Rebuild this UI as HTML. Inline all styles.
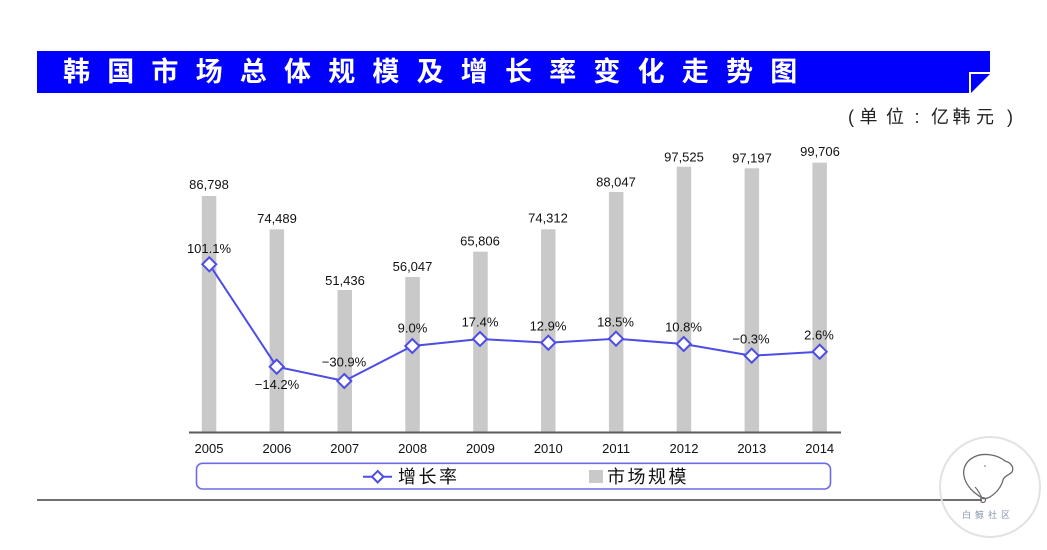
<!DOCTYPE html>
<html><head><meta charset="utf-8"><style>
html,body{margin:0;padding:0;background:#fff;}
svg{display:block;}
</style></head><body>
<svg width="1047" height="550" viewBox="0 0 1047 550" xmlns="http://www.w3.org/2000/svg">
<rect width="1047" height="550" fill="#fff"/>
<!-- title bar -->
<path d="M37 51 H990 V72 H969 V93 H37 Z" fill="#0000fc"/>
<path d="M971 74 H990 L971 93 Z" fill="#0000fc"/>
<g font-family="'Noto Sans CJK SC','WenQuanYi Zen Hei',sans-serif" font-weight="bold" font-size="27" fill="#fff" text-anchor="middle">
<text x="76.5" y="81">韩</text><text x="120.7" y="81">国</text><text x="164.9" y="81">市</text><text x="209.1" y="81">场</text><text x="253.3" y="81">总</text><text x="297.5" y="81">体</text><text x="341.7" y="81">规</text><text x="385.9" y="81">模</text><text x="430.1" y="81">及</text><text x="474.3" y="81">增</text><text x="518.5" y="81">长</text><text x="562.7" y="81">率</text><text x="606.9" y="81">变</text><text x="651.1" y="81">化</text><text x="695.3" y="81">走</text><text x="739.5" y="81">势</text><text x="783.7" y="81">图</text>
</g>
<!-- unit -->
<g font-family="'Liberation Sans','Noto Sans CJK SC',sans-serif" font-size="18" fill="#222" text-anchor="middle">
<text x="851" y="123">(</text><text x="868.5" y="123">单</text><text x="895" y="123">位</text><text x="917" y="123">:</text><text x="940" y="123">亿</text><text x="961.5" y="123">韩</text><text x="985" y="123">元</text><text x="1010" y="123">)</text>
</g>
<!-- bars -->
<g fill="#c9c9c9">
<rect x="201.8" y="196" width="14.5" height="236.5"/>
<rect x="269.6" y="229.3" width="14.5" height="203.2"/>
<rect x="337.5" y="290" width="14.5" height="142.5"/>
<rect x="405.3" y="277" width="14.5" height="155.5"/>
<rect x="473.2" y="251.7" width="14.5" height="180.8"/>
<rect x="541" y="229.3" width="14.5" height="203.2"/>
<rect x="608.9" y="192" width="14.5" height="240.5"/>
<rect x="676.7" y="166.7" width="14.5" height="265.8"/>
<rect x="744.6" y="168.3" width="14.5" height="264.2"/>
<rect x="812.4" y="162.7" width="14.5" height="269.8"/>
</g>
<!-- axis -->
<line x1="189" y1="432.5" x2="841" y2="432.5" stroke="#5a5a5a" stroke-width="2"/>
<!-- line -->
<polyline points="209.3,264.3 276.7,366.7 344.3,381 412.3,346 480,339 548.3,342.7 616,338.7 683.7,344 751.7,355.7 819.7,351.7" fill="none" stroke="#4d4de6" stroke-width="2"/>
<g fill="#fff" stroke="#4d4de6" stroke-width="2">
<path d="M209.3 257.3 L216.3 264.3 L209.3 271.3 L202.3 264.3 Z"/>
<path d="M276.7 359.7 L283.7 366.7 L276.7 373.7 L269.7 366.7 Z"/>
<path d="M344.3 374 L351.3 381 L344.3 388 L337.3 381 Z"/>
<path d="M412.3 339 L419.3 346 L412.3 353 L405.3 346 Z"/>
<path d="M480 332 L487 339 L480 346 L473 339 Z"/>
<path d="M548.3 335.7 L555.3 342.7 L548.3 349.7 L541.3 342.7 Z"/>
<path d="M616 331.7 L623 338.7 L616 345.7 L609 338.7 Z"/>
<path d="M683.7 337 L690.7 344 L683.7 351 L676.7 344 Z"/>
<path d="M751.7 348.7 L758.7 355.7 L751.7 362.7 L744.7 355.7 Z"/>
<path d="M819.7 344.7 L826.7 351.7 L819.7 358.7 L812.7 351.7 Z"/>
</g>
<!-- data labels -->
<g font-family="'Liberation Sans',sans-serif" font-size="13" fill="#111" text-anchor="middle">
<text x="209" y="189">86,798</text>
<text x="277" y="223">74,489</text>
<text x="345" y="285">51,436</text>
<text x="412.5" y="271">56,047</text>
<text x="480" y="245.7">65,806</text>
<text x="548" y="222.7">74,312</text>
<text x="616" y="186.7">88,047</text>
<text x="684" y="161.7">97,525</text>
<text x="752" y="162.7">97,197</text>
<text x="820" y="156.2">99,706</text>
<text x="209" y="253">101.1%</text>
<text x="277" y="389">−14.2%</text>
<text x="344" y="366.7">−30.9%</text>
<text x="412.5" y="332.7">9.0%</text>
<text x="480" y="326.7">17.4%</text>
<text x="548" y="330.7">12.9%</text>
<text x="615.5" y="326.7">18.5%</text>
<text x="683.5" y="331.7">10.8%</text>
<text x="751" y="343.7">−0.3%</text>
<text x="819" y="339.7">2.6%</text>
</g>
<!-- years -->
<g font-family="'Liberation Sans',sans-serif" font-size="13" fill="#111" text-anchor="middle">
<text x="209" y="453">2005</text><text x="276.9" y="453">2006</text><text x="344.7" y="453">2007</text><text x="412.6" y="453">2008</text><text x="480.4" y="453">2009</text><text x="548.3" y="453">2010</text><text x="616.1" y="453">2011</text><text x="684" y="453">2012</text><text x="751.8" y="453">2013</text><text x="819.7" y="453">2014</text>
</g>
<!-- legend -->
<rect x="196.5" y="463.3" width="634" height="25.7" rx="6" ry="6" fill="#fff" stroke="#6b6be6" stroke-width="1.6"/>
<line x1="363" y1="476.7" x2="392" y2="476.7" stroke="#4d4de6" stroke-width="2"/>
<path d="M377.7 471 L383.4 476.7 L377.7 482.4 L372 476.7 Z" fill="#fff" stroke="#4d4de6" stroke-width="2"/>
<text x="398" y="483" font-family="'Noto Sans CJK SC','WenQuanYi Zen Hei',sans-serif" font-size="18" letter-spacing="2.5" fill="#111">增长率</text>
<rect x="589" y="470" width="14" height="13" fill="#c9c9c9"/>
<text x="607" y="483" font-family="'Noto Sans CJK SC','WenQuanYi Zen Hei',sans-serif" font-size="18" letter-spacing="2.5" fill="#111">市场规模</text>
<!-- bottom rule -->
<line x1="37" y1="500" x2="982" y2="500" stroke="#707070" stroke-width="2"/>
<!-- watermark -->
<circle cx="990" cy="487" r="50" fill="none" stroke="#e2e2e2" stroke-width="2"/>
<path d="M982 498 C976 494 970 490 966 482 C961 472 964 462 974 457 C984 452 998 455 1005 461 C1012 463 1014 468 1012 472 C1008 476 1004 476 1003 480 C1001 488 996 493 990 497 C986 499 983 499 982 498" fill="none" stroke="#6a6a6a" stroke-width="1.3"/>
<path d="M982 498 C980 494 978 490 975 487" fill="none" stroke="#6a6a6a" stroke-width="1.2"/>
<circle cx="983" cy="500" r="2.5" fill="none" stroke="#6a6a6a" stroke-width="1.2"/>
<circle cx="985" cy="466" r="0.8" fill="#6a6a6a"/>
<text x="988" y="518" font-family="'Noto Sans CJK SC',sans-serif" font-size="9" letter-spacing="4" fill="#8894a8" text-anchor="middle">白鲸社区</text>
</svg>
</body></html>
